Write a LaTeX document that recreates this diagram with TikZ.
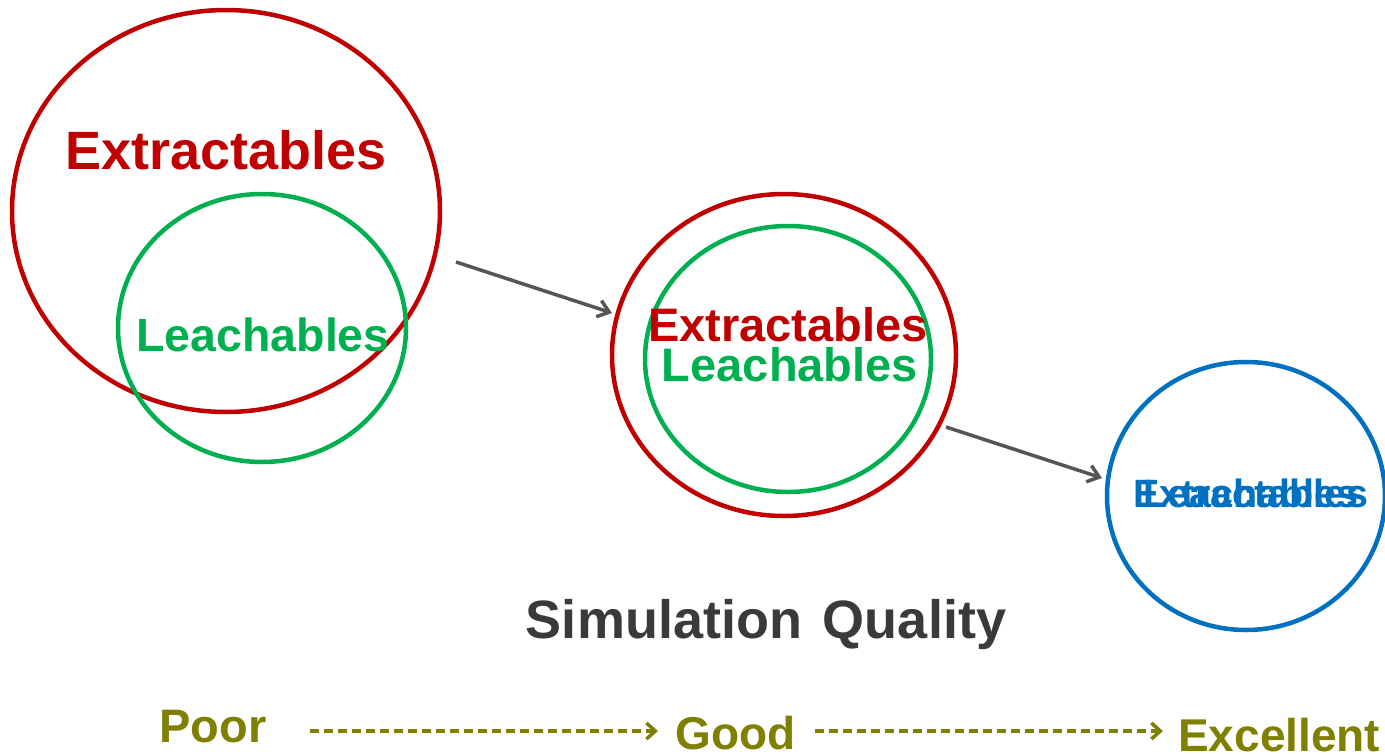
\documentclass[tikz,border=0pt]{standalone}
\usepackage{fontspec}
\setmainfont{Liberation Sans}
\usetikzlibrary{shapes.geometric,arrows.meta}
\definecolor{cred}{HTML}{C00000}
\definecolor{cgreen}{HTML}{00B050}
\definecolor{cblue}{HTML}{0070C0}
\definecolor{colive}{HTML}{808000}
\definecolor{carrow}{HTML}{555555}
\definecolor{ctext}{HTML}{3A3A3A}
\begin{document}
\begin{tikzpicture}[x=1pt,y=-1pt,
  ring/.style={ellipse,draw,line width=4.5pt,inner sep=0pt,fill=none},
  lbl/.style={inner sep=0pt,anchor=center,font=\bfseries},
  flow/.style={draw=carrow,line width=3.5pt,-{Straight Barb[length=11pt,width=17pt,line width=3.5pt]}},
  scale arrow/.style={draw=colive,line width=3.8pt,dash pattern=on 9pt off 5pt,-{Straight Barb[length=9pt,width=16pt,line width=3.5pt]}}]
\useasboundingbox (0,0) rectangle (1385,755);
% circles
\node[ring,draw=cred,minimum width=428pt,minimum height=402pt] (r1) at (226,211) {};
\node[ring,draw=cgreen,minimum width=288pt,minimum height=268pt] (g1) at (262,328) {};
\node[ring,draw=cred,minimum width=344pt,minimum height=322pt] (r2) at (784,355) {};
\node[ring,draw=cgreen,minimum width=286pt,minimum height=266pt] (g2) at (788,359) {};
\node[ring,draw=cblue,minimum width=278pt,minimum height=268pt] (b3) at (1246,496) {};
% labels
\node[lbl,text=cred,font=\fontsize{54}{60}\selectfont\bfseries] (e1) at (226,150) {Extractables};
\node[lbl,text=cgreen,font=\fontsize{46.5}{52}\selectfont\bfseries] (l1) at (263,335) {Leachables};
\node[lbl,text=cred,font=\fontsize{47}{52}\selectfont\bfseries] (e2) at (788,325) {Extractables};
\node[lbl,text=cgreen,font=\fontsize{47}{52}\selectfont\bfseries] (l2) at (790,365) {Leachables};
\node[lbl,text=cblue,font=\fontsize{39.5}{44}\selectfont\bfseries] (e3) at (1251,493) {Extractables};
\node[lbl,text=cblue,font=\fontsize{39.5}{44}\selectfont\bfseries] (l3) at (1251,493) {Leachables};
% flow arrows
\coordinate (s1) at (456,262);
\coordinate (t1) at (612,313);
\coordinate (s2) at (946,427);
\coordinate (t2) at (1102,478);
\draw[flow] (s1) -- (t1);
\draw[flow] (s2) -- (t2);
% title
\node[lbl,text=ctext,font=\fontsize{54}{60}\selectfont\bfseries] (sq) at (766,625) {Simulation\hspace{6pt} Quality};
% scale
\node[lbl,text=colive,font=\fontsize{47}{52}\selectfont\bfseries] (poor) at (213,727) {Poor};
\node[lbl,text=colive,font=\fontsize{46}{52}\selectfont\bfseries] (good) at (736,733) {Good};
\node[lbl,text=colive,font=\fontsize{46}{52}\selectfont\bfseries,anchor=west] (exc) at (1178,735) {Excellent};
\coordinate (d1s) at (310,731);
\coordinate (d1e) at (658,731);
\coordinate (d2s) at (815,731);
\coordinate (d2e) at (1163,731);
\draw[scale arrow] (d1s) -- (d1e);
\draw[scale arrow] (d2s) -- (d2e);
\end{tikzpicture}
\end{document}
